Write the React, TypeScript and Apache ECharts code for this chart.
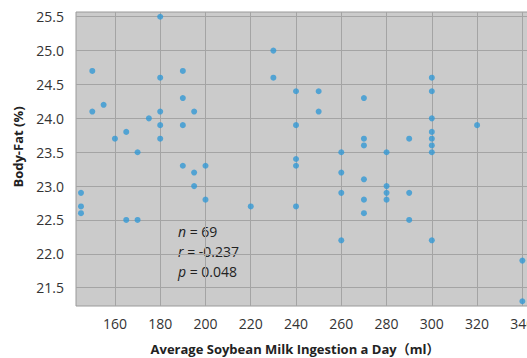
import React, { useEffect, useRef } from "react";
import * as echarts from "echarts";

const xTicks = [160, 180, 200, 220, 240, 260, 280, 300, 320, 340];
const yTicks = [21.5, 22.0, 22.5, 23.0, 23.5, 24.0, 24.5, 25.0, 25.5];

const milk = [
  180, 150, 180, 190, 190, 155, 150, 180, 195, 175, 180, 190, 165, 160, 180, 170,
  230, 230, 240, 250, 270, 250, 240, 270, 270, 260, 240,
  300, 300, 300, 320, 300, 290, 300, 300, 280, 300,
  190, 200, 195, 195, 200, 145, 145, 145, 165, 170,
  220, 240, 240, 260, 260, 260, 270, 270, 270, 280, 280, 280, 290, 290, 300, 340, 340,
];
const bodyFat = [
  25.5, 24.7, 24.6, 24.7, 24.3, 24.2, 24.1, 24.1, 24.1, 24.0, 23.9, 23.9, 23.8, 23.7, 23.7, 23.5,
  25.0, 24.6, 24.4, 24.4, 24.3, 24.1, 23.9, 23.7, 23.6, 23.5, 23.4,
  24.6, 24.4, 24.0, 23.9, 23.8, 23.7, 23.7, 23.6, 23.5, 23.5,
  23.3, 23.3, 23.2, 23.0, 22.8, 22.9, 22.7, 22.6, 22.5, 22.5,
  22.7, 23.3, 22.7, 23.2, 22.9, 22.2, 23.1, 22.8, 22.6, 23.0, 22.9, 22.8, 22.9, 22.5, 22.2, 21.9, 21.3,
];

const FONT = "'Open Sans', 'Noto Sans CJK SC', sans-serif";

export default function App() {
  const ref = useRef<HTMLDivElement>(null);
  useEffect(() => {
    if (!ref.current) return;
    const chart = echarts.init(ref.current, undefined, { renderer: "svg" });
    const data = milk.map((m, i) => [m, bodyFat[i]]);
    chart.setOption({
      animation: false,
      backgroundColor: "#ffffff",
      grid: {
        left: 76,
        top: 12,
        right: 15,
        bottom: 52,
        show: true,
        backgroundColor: "#cbcbcb",
        borderColor: "#9a9a9a",
        borderWidth: 1,
      },
      xAxis: {
        type: "value",
        min: 142.8,
        max: 350,
        axisLine: { show: false },
        axisTick: { show: false, customValues: xTicks },
        axisLabel: {
          customValues: xTicks,
          color: "#333",
          fontSize: 14,
          fontFamily: FONT,
          margin: 10,
        },
        splitLine: { show: true, lineStyle: { color: "#a4a4a4", width: 1 } },
      },
      yAxis: {
        type: "value",
        min: 21.23,
        max: 25.57,
        axisLine: { show: false },
        axisTick: { show: false, customValues: yTicks },
        axisLabel: {
          customValues: yTicks,
          color: "#333",
          fontSize: 14,
          fontFamily: FONT,
          margin: 12,
          formatter: (v: number) => v.toFixed(1),
        },
        splitLine: { show: true, lineStyle: { color: "#a4a4a4", width: 1 } },
      },
      series: [
        {
          type: "scatter",
          data,
          symbol: "circle",
          symbolSize: 6,
          itemStyle: { color: "#3398d4" },
          clip: false,
        },
      ],
      graphic: [
        {
          type: "text",
          x: 295,
          y: 349,
          style: {
            text: "Average Soybean Milk Ingestion a Day（ml）",
            font: `bold 13px ${FONT}`,
            fill: "#222",
            textAlign: "center",
            textVerticalAlign: "middle",
          },
        },
        {
          type: "text",
          x: 18,
          y: 147,
          rotation: Math.PI / 2,
          style: {
            text: "Body-Fat (%)",
            font: `bold 13px ${FONT}`,
            fill: "#222",
            textAlign: "center",
            textVerticalAlign: "middle",
          },
        },
        {
          type: "text",
          x: 178,
          y: 221,
          style: {
            text: "{i|n} = 69\n{i|r} = -0.237\n{i|p} = 0.048",
            font: `14px ${FONT}`,
            fill: "#222",
            lineHeight: 20,
            rich: {
              i: { fontStyle: "italic", fontSize: 14, fontFamily: FONT, fill: "#222", lineHeight: 20 },
            },
          },
        },
      ],
    });
    return () => chart.dispose();
  }, []);
  return (
    <div
      style={{
        position: "fixed",
        left: 0,
        top: 0,
        width: 527,
        height: 358,
        overflow: "hidden",
        background: "#fff",
      }}
    >
      <div ref={ref} style={{ width: 560, height: 358 }} />
    </div>
  );
}
